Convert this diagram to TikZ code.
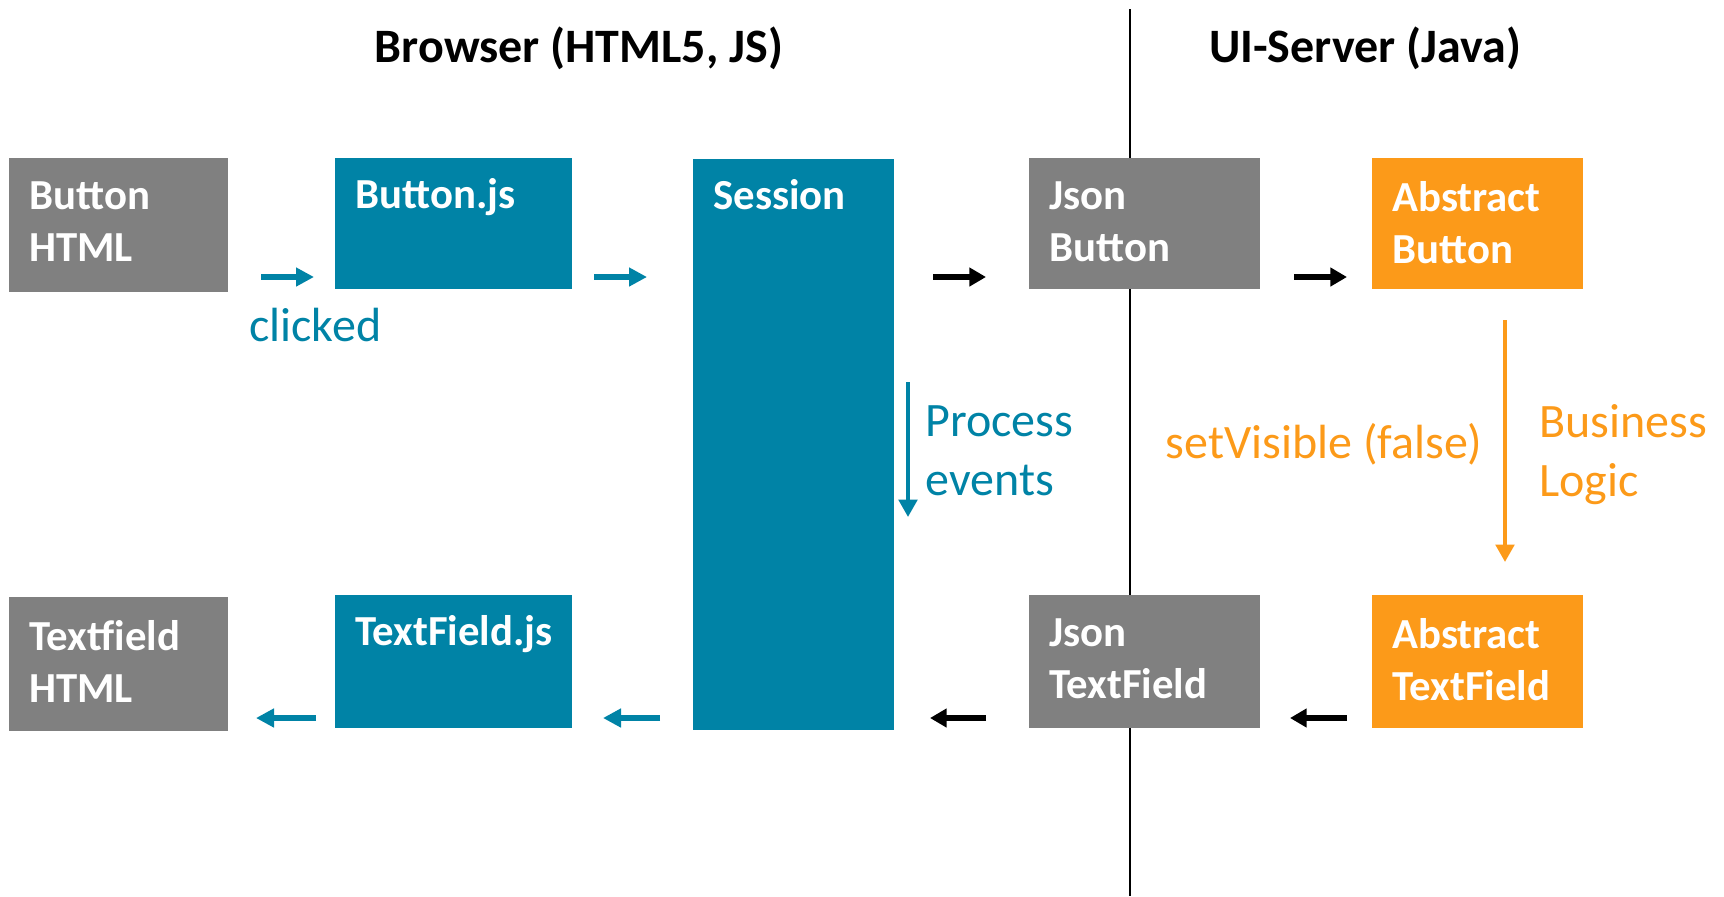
\documentclass[tikz,border=0pt]{standalone}
\usepackage{fontspec}
\setmainfont{Carlito}
\usetikzlibrary{arrows.meta}
\definecolor{jsblue}{RGB}{0,131,166}
\definecolor{htmlgray}{RGB}{128,128,128}
\definecolor{javaorange}{RGB}{252,154,25}
\begin{document}
\begin{tikzpicture}[
		x = 0.5pt, y = -0.5pt,
		box/.style = { rectangle, inner sep = 0pt, outer sep = 0pt },
		gray box/.style = { box, fill = htmlgray },
		blue box/.style = { box, fill = jsblue },
		orange box/.style = { box, fill = javaorange },
		boxtext/.style = { anchor = north west, inner sep = 0pt, xshift = 10pt, yshift = -11.5pt, text = white, align = left, font = \bfseries\fontsize{21.4}{26}\selectfont },
		one line/.style = { yshift = 1.4pt },
		head/.style = { inner sep = 0pt, font = \bfseries\fontsize{24}{29}\selectfont },
		note/.style = { inner sep = 0pt, align = left, font = \fontsize{24}{29.5}\selectfont },
		blue flow/.style = { draw = jsblue, line width = 2.8pt, -{Triangle[length=9pt, width=9pt]} },
		black flow/.style = { draw = black, line width = 3.3pt, -{Triangle[length=8.3pt, width=9pt]} },
		thin flow/.style = { line width = 2pt, -{Triangle[length=8.7pt, width=9.2pt]} }
	]
	\useasboundingbox (0, 0) rectangle (1724, 896);
	% browser / server split
	\coordinate (split top) at (1130, 9);
	\coordinate (split bottom) at (1130, 896);
	\draw [line width = 1pt] (split top) -- (split bottom);
	\node [head] (browser head) at (579, 48) {Browser (HTML5, JS)};
	\node [head] (server head) at (1365, 48) {UI-Server (Java)};
	% top row
	\node [gray box, minimum width = 109.5pt, minimum height = 67pt] (button html) at (118.5, 225) {};
	\node [boxtext] (button html text) at (button html.north west) {Button\\HTML};
	\node [blue box, minimum width = 118.5pt, minimum height = 65.5pt] (button js) at (453.5, 223.5) {};
	\node [boxtext, one line] (button js text) at (button js.north west) {Button.js};
	\node [blue box, minimum width = 100.5pt, minimum height = 285.5pt] (session) at (793.5, 444.5) {};
	\node [boxtext, one line] (session text) at (session.north west) {Session};
	\node [gray box, minimum width = 115.5pt, minimum height = 65.5pt] (json button) at (1144.5, 223.5) {};
	\node [boxtext] (json button text) at (json button.north west) {Json\\Button};
	\node [orange box, minimum width = 105.5pt, minimum height = 65.5pt] (abstract button) at (1477.5, 223.5) {};
	\node [boxtext] (abstract button text) at (abstract button.north west) {Abstract\\Button};
	% bottom row
	\node [gray box, minimum width = 109.5pt, minimum height = 67pt] (textfield html) at (118.5, 664) {};
	\node [boxtext] (textfield html text) at (textfield html.north west) {Textfield\\HTML};
	\node [blue box, minimum width = 118.5pt, minimum height = 66.5pt] (textfield js) at (453.5, 661.5) {};
	\node [boxtext, one line] (textfield js text) at (textfield js.north west) {TextField.js};
	\node [gray box, minimum width = 115.5pt, minimum height = 66.5pt] (json textfield) at (1144.5, 661.5) {};
	\node [boxtext] (json textfield text) at (json textfield.north west) {Json\\TextField};
	\node [orange box, minimum width = 105.5pt, minimum height = 66.5pt] (abstract textfield) at (1477.5, 661.5) {};
	\node [boxtext] (abstract textfield text) at (abstract textfield.north west) {Abstract\\TextField};
	\coordinate (top row) at (0, 277);
	\coordinate (bottom row) at (0, 718);
	% clicked: html -> js -> session -> server
	\draw [blue flow, shorten <= 16.5pt, shorten >= 10.5pt] (button html.east |- top row) -- (button js.west |- top row);
	\draw [blue flow, shorten <= 11pt, shorten >= 23pt] (button js.east |- top row) -- (session.west |- top row);
	\draw [black flow, shorten <= 19.5pt, shorten >= 21.5pt] (session.east |- top row) -- (json button.west |- top row);
	\draw [black flow, shorten <= 17pt, shorten >= 12.5pt] (json button.east |- top row) -- (abstract button.west |- top row);
	\node [note, text = jsblue, anchor = west] (clicked) at (249, 325) {clicked};
	% answer back to the browser
	\draw [black flow, shorten <= 12.5pt, shorten >= 15pt] (abstract textfield.west |- bottom row) -- (json textfield.east |- bottom row);
	\draw [black flow, shorten <= 21.5pt, shorten >= 18pt] (json textfield.west |- bottom row) -- (session.east |- bottom row);
	\draw [blue flow, shorten <= 16.5pt, shorten >= 15.5pt] (session.west |- bottom row) -- (textfield js.east |- bottom row);
	\draw [blue flow, shorten <= 9.5pt, shorten >= 14pt] (textfield js.west |- bottom row) -- (textfield html.east |- bottom row);
	% session
	\coordinate (events top) at (908, 382);
	\coordinate (events bottom) at (908, 517);
	\draw [thin flow, draw = jsblue] (events top) -- (events bottom);
	\node [note, text = jsblue, anchor = north west] (process events) at (925, 405) {Process\\events};
	% business logic
	\draw [thin flow, draw = javaorange, shorten <= 15.5pt, shorten >= 16.5pt] ([xshift=13.75pt]abstract button.south) -- ([xshift=13.75pt]abstract textfield.north);
	\node [note, text = javaorange, anchor = east] (set visible) at (1483, 444) {setVisible (false)};
	\node [note, text = javaorange, anchor = north west] (business logic) at (1539, 404) {Business\\Logic};
\end{tikzpicture}
\end{document}
